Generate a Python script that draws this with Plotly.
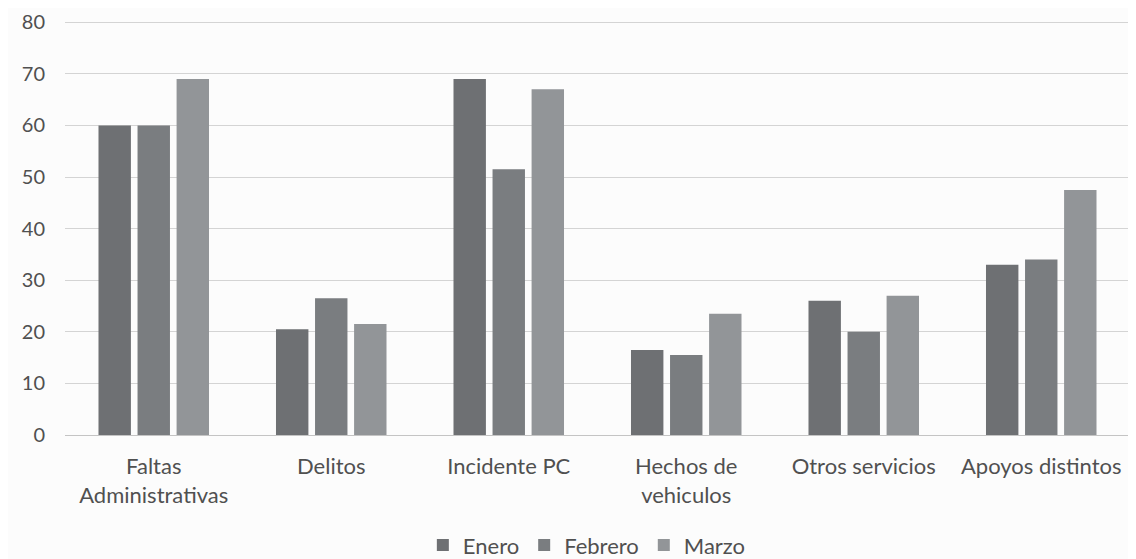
import plotly.graph_objects as go

categories = ["Faltas<br>Administrativas", "Delitos", "Incidente PC",
              "Hechos de<br>vehiculos", "Otros servicios", "Apoyos distintos"]
enero = [60, 20.5, 69, 16.5, 26, 33]
febrero = [60, 26.5, 51.5, 15.5, 20, 34]
marzo = [69, 21.5, 67, 23.5, 27, 47.5]
series_names = ["Enero", "Febrero", "Marzo"]
y_ticks = [0, 10, 20, 30, 40, 50, 60, 70, 80]

colors = ["#6e7073", "#7a7d80", "#929598"]

fig = go.Figure()
for name, vals, col in zip(series_names, [enero, febrero, marzo], colors):
    fig.add_trace(go.Bar(name=name, x=categories, y=vals, marker_color=col,
                         marker_line_width=0))

fig.update_layout(
    width=1128, height=551,
    barmode="group", bargap=0.34, bargroupgap=0.17,
    paper_bgcolor="#fcfcfc", plot_bgcolor="#fcfcfc",
    margin=dict(l=57, r=6, t=13, b=124, autoexpand=False),
    font=dict(family="Lato, 'Open Sans', sans-serif", color="#505050", size=22),
    showlegend=True,
    legend=dict(orientation="h", x=0.49, xanchor="center", y=-0.266, yanchor="middle",
                font=dict(size=22, color="#505050"), traceorder="normal",
                itemwidth=30, tracegroupgap=0),
    yaxis=dict(range=[0, 80.25], tickvals=y_ticks, showgrid=True, gridcolor="#d4d4d4",
               gridwidth=1, zeroline=True, zerolinecolor="#c4c4c4", zerolinewidth=1,
               showline=False, ticklabelstandoff=19, tickfont=dict(size=20),
               ticklabeloverflow="allow", automargin=False),
    xaxis=dict(showline=False, ticks="", ticklabelstandoff=16, tickfont=dict(size=22),
               automargin=False),
)

fig.write_html("out.html")
